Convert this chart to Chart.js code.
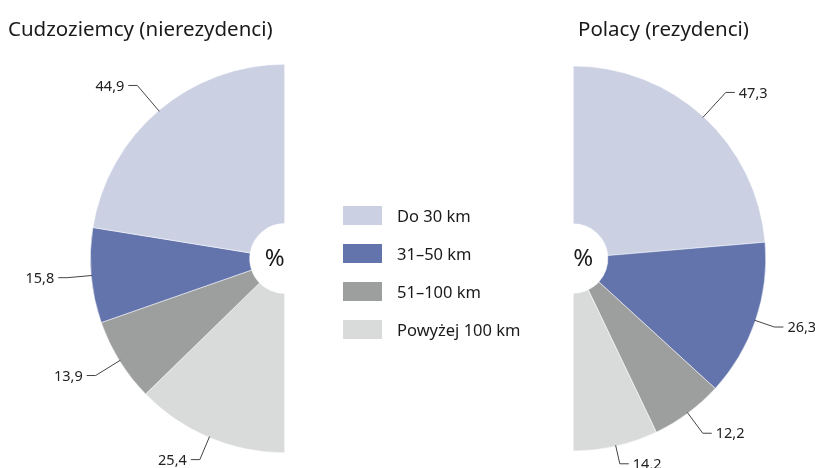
<!DOCTYPE html>
<html>
<head>
<meta charset="utf-8">
<script src="https://cdn.jsdelivr.net/npm/chart.js@4.4.1/dist/chart.umd.min.js"></script>
<style>
  body { margin: 0; background: #fff; font-family: "Noto Sans", sans-serif; }
  #wrap { position: relative; width: 815px; height: 468px; overflow: hidden; }
  canvas { position: absolute; left: 0; top: 0; }
  .title { position: absolute; top: 14px; font-size: 20.5px; color: #1a1a1a; white-space: nowrap; }
  #legend { position: absolute; left: 343px; top: 196px; display: flex; flex-direction: column; }
  .row { display: flex; align-items: center; height: 38px; }
  .box { width: 39px; height: 19px; margin-right: 15px; }
  .lbl { font-size: 16.5px; color: #1a1a1a; }
</style>
</head>
<body>
<div id="wrap">
  <canvas id="left" width="815" height="468"></canvas>
  <canvas id="right" width="815" height="468"></canvas>
  <div class="title" style="left:8px">Cudzoziemcy (nierezydenci)</div>
  <div class="title" style="left:578px">Polacy (rezydenci)</div>
  <div id="legend"></div>
</div>
<script>
var categories = ["Do 30 km", "31\u201350 km", "51\u2013100 km", "Powy\u017cej 100 km"];
var foreignValues = [44.9, 15.8, 13.9, 25.4];
var polishValues = [47.3, 26.3, 12.2, 14.2];
var colors = ["#cbd0e3", "#6374ad", "#9d9e9e", "#d9dbdb"];
// how far each leader line sticks out of the pie
var foreignLeaders = [33, 24, 28, 24];
var polishLeaders = [33, 20, 25, 18];

// legend in the middle
var legend = document.getElementById("legend");
categories.forEach(function (c, i) {
  var row = document.createElement("div");
  row.className = "row";
  row.innerHTML = '<div class="box" style="background:' + colors[i] + '"></div><span class="lbl">' + c + '</span>';
  legend.appendChild(row);
});

function fmt(v) { return v.toFixed(1).replace(".", ","); }

var labelPlugin = {
  id: "leaders",
  afterDatasetsDraw: function (chart) {
    var ctx = chart.ctx;
    var arcs = chart.getDatasetMeta(0).data;
    var ds = chart.data.datasets[0];
    ctx.save();
    ctx.strokeStyle = "#444";
    ctx.lineWidth = 1;
    ctx.fillStyle = "#222";
    ctx.font = "14.5px 'Noto Sans'";
    ctx.textBaseline = "middle";
    arcs.forEach(function (arc, i) {
      var a = (arc.startAngle + arc.endAngle) / 2;
      var r = arc.outerRadius;
      var len = ds.leaders[i];
      var x0 = arc.x + Math.cos(a) * (r - 1), y0 = arc.y + Math.sin(a) * (r - 1);
      var x1 = arc.x + Math.cos(a) * (r + len), y1 = arc.y + Math.sin(a) * (r + len);
      var dir = Math.cos(a) < 0 ? -1 : 1;
      var x2 = x1 + dir * 9;
      ctx.beginPath();
      ctx.moveTo(x0, y0);
      ctx.lineTo(x1, y1);
      ctx.lineTo(x2, y1);
      ctx.stroke();
      ctx.textAlign = dir < 0 ? "right" : "left";
      ctx.fillText(fmt(ds.data[i]), x2 + dir * 4, y1 + 1);
    });
    // percent sign inside the hole
    var c = arcs[0];
    var side = chart.options.side;
    ctx.font = "24px 'Noto Sans'";
    ctx.textAlign = "center";
    ctx.fillStyle = "#1a1a1a";
    ctx.fillText("%", c.x + side * 10, c.y + 1);
    ctx.restore();
  }
};

function half(id, values, cols, leaders, rotation, pad, side) {
  return new Chart(id, {
    type: "doughnut",
    data: {
      labels: categories,
      datasets: [{
        data: values,
        leaders: leaders,
        backgroundColor: cols,
        borderColor: "#fff",
        borderWidth: 0.5
      }]
    },
    options: {
      responsive: false,
      animation: false,
      side: side,
      rotation: rotation,
      circumference: 180,
      cutout: "18%",
      layout: { padding: pad },
      plugins: { legend: { display: false }, tooltip: { enabled: false } }
    },
    plugins: [labelPlugin]
  });
}

// left half runs clockwise from the bottom, so feed it in reverse order
half("left", foreignValues.slice().reverse(), colors.slice().reverse(), foreignLeaders.slice().reverse(), 180,
  { left: 90, right: 815 - 285, top: 64, bottom: 468 - 453 }, -1);
half("right", polishValues, colors, polishLeaders, 0,
  { left: 573, right: 815 - 766, top: 65, bottom: 468 - 452 }, 1);
</script>
</body>
</html>
